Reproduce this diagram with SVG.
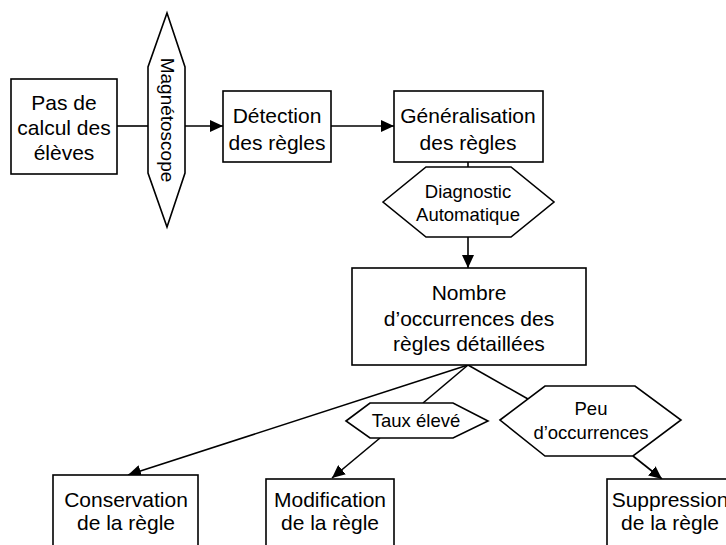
<svg xmlns="http://www.w3.org/2000/svg" width="726" height="545" viewBox="0 0 726 545">
<defs>
<style>
.box{fill:#fff;stroke:#000;stroke-width:1.6}
.hex{fill:#fff;stroke:#000;stroke-width:1.6}
.t{font-family:"Liberation Sans",Arial,sans-serif;font-size:21px;fill:#000;text-anchor:middle}
.s{font-family:"Liberation Sans",Arial,sans-serif;font-size:18.5px;fill:#000;text-anchor:middle}
.c{fill:none;stroke:#000;stroke-width:1.6}
</style>
<marker id="arr" markerUnits="userSpaceOnUse" markerWidth="14" markerHeight="12" refX="13" refY="6" orient="auto">
<path d="M0,0 L13,6 L0,12 z" fill="#000"/>
</marker>
</defs>
<rect width="726" height="545" fill="#fff"/>
<g id="connectors">
<line class="c" x1="117" y1="126" x2="148" y2="126"/>
<line class="c" x1="185" y1="126" x2="223" y2="126" marker-end="url(#arr)"/>
<line class="c" x1="331" y1="126" x2="394" y2="126" marker-end="url(#arr)"/>
<line class="c" x1="468" y1="162" x2="468" y2="167"/>
<line class="c" x1="468" y1="237" x2="468" y2="268" marker-end="url(#arr)"/>
<line class="c" x1="468" y1="365" x2="128" y2="475" marker-end="url(#arr)"/>
<line class="c" x1="468" y1="365" x2="423" y2="403"/>
<line class="c" x1="468" y1="365" x2="528" y2="399"/>
<line class="c" x1="380" y1="438" x2="332" y2="478" marker-end="url(#arr)"/>
<line class="c" x1="633" y1="456" x2="662" y2="479" marker-end="url(#arr)"/>
</g>
<g id="pas-de-calcul">
<rect class="box" x="11" y="79" width="106" height="95"/>
<text class="t" x="64" y="110">Pas de</text>
<text class="t" x="64" y="135">calcul des</text>
<text class="t" x="64" y="160">élèves</text>
</g>
<g id="magnetoscope">
<polygon class="hex" points="167,13 185,67 185,173 167,227 148,173 148,67"/>
<text class="s" font-size="19" transform="translate(167,120) rotate(90)" y="6.5" style="font-size:19px">Magnétoscope</text>
</g>
<g id="detection">
<rect class="box" x="223" y="91" width="108" height="71"/>
<text class="t" x="277" y="123">Détection</text>
<text class="t" x="277" y="150">des règles</text>
</g>
<g id="generalisation">
<rect class="box" x="394" y="91" width="149" height="71"/>
<text class="t" x="468" y="123">Généralisation</text>
<text class="t" x="468" y="150">des règles</text>
</g>
<g id="diagnostic">
<polygon class="hex" points="383,202 426,167 511,167 554,202 511,237 426,237"/>
<text class="s" x="468" y="198">Diagnostic</text>
<text class="s" x="468" y="221">Automatique</text>
</g>
<g id="nombre">
<rect class="box" x="352" y="268" width="234" height="97"/>
<text class="t" x="469" y="300">Nombre</text>
<text class="t" x="469" y="326">d’occurrences des</text>
<text class="t" x="469" y="351">règles détaillées</text>
</g>
<g id="taux-eleve">
<polygon class="hex" points="346,421 370,403 453,403 488,421 453,438 370,438"/>
<text class="s" x="416" y="427">Taux élevé</text>
</g>
<g id="peu-occurrences">
<polygon class="hex" points="500,420 545,386 635,386 681,420 633,456 545,456"/>
<text class="s" x="591" y="415">Peu</text>
<text class="s" x="591" y="439">d’occurrences</text>
</g>
<g id="conservation">
<rect class="box" x="53" y="475" width="145" height="80"/>
<text class="t" x="126" y="507">Conservation</text>
<text class="t" x="126" y="530">de la règle</text>
</g>
<g id="modification">
<rect class="box" x="266" y="479" width="128" height="80"/>
<text class="t" x="330" y="507">Modification</text>
<text class="t" x="330" y="530">de la règle</text>
</g>
<g id="suppression">
<rect class="box" x="607" y="479" width="128" height="80"/>
<text class="t" x="670" y="507">Suppression</text>
<text class="t" x="670" y="530">de la règle</text>
</g>
</svg>
